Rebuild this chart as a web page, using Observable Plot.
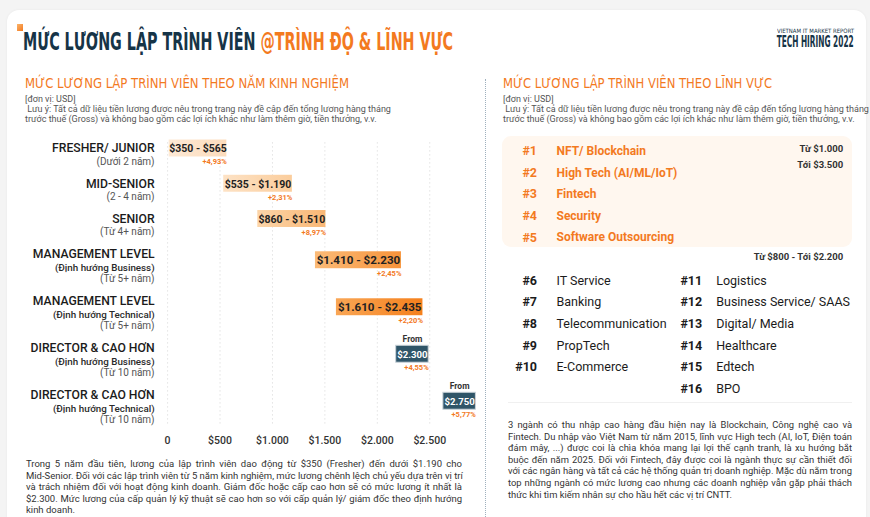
<!DOCTYPE html>
<html>
<head>
<meta charset="utf-8">
<script src="https://cdn.jsdelivr.net/npm/d3@7"></script>
<script src="https://cdn.jsdelivr.net/npm/@observablehq/plot@0.6"></script>
<style>
  html, body { margin: 0; padding: 0; }
  body { width: 870px; height: 517px; overflow: hidden; background: #f4f4f4; font-family: Roboto, "Noto Sans", sans-serif; }
  #page { position: relative; width: 870px; height: 517px; overflow: hidden; }
  .abs { position: absolute; white-space: nowrap; }
  .card { position: absolute; left: 7px; top: 10px; width: 859px; height: 540px; background: #fff; border-radius: 12px; box-shadow: 0 0 3px rgba(0,0,0,0.05); }
  .narrow { font-family: "Liberation Sans Narrow", "DejaVu Sans Condensed", sans-serif; }
  .title { font-weight: bold; font-size: 25px; line-height: 25px; color: #163447; transform-origin: 0 0; }
  .title span { color: #f37a1f; }
  .heading { font-size: 14px; line-height: 14px; color: #f37a1f; transform-origin: 0 0; }
  .note { font-size: 9px; line-height: 10px; color: #555; }
  .para { position: absolute; font-size: 9.4px; line-height: 11.6px; color: #333; text-align: justify; white-space: normal; }
  .para .ln { white-space: nowrap; text-align: justify; text-align-last: justify; }
  .para .ln.last { text-align-last: left; }
  .plot { position: absolute; overflow: hidden; }
</style>
</head>
<body>
<div id="page">
  <div class="card"></div>
  <div class="abs" style="left:17px;top:24px;width:6px;height:7px;background:linear-gradient(135deg,#fbb46b,#f37a1f);"></div>
  <div class="abs narrow title" id="title">MỨC LƯƠNG LẬP TRÌNH VIÊN <span>@TRÌNH ĐỘ &amp; LĨNH VỰC</span></div>
  <div class="abs narrow" id="rep1" style="font-size:6px;line-height:5px;color:#163447;">VIETNAM IT MARKET REPORT</div>
  <div class="abs narrow" id="rep2" style="font-size:15px;line-height:11px;font-weight:bold;color:#163447;">TECH HIRING 2022</div>

  <div class="abs narrow heading" id="h1" style="left:25px;top:76px;">MỨC LƯƠNG LẬP TRÌNH VIÊN THEO NĂM KINH NGHIỆM</div>
  <div class="abs note" style="left:25px;top:94px;">[đơn vị: USD]</div>
  <div class="abs note" style="left:25px;top:104px;">&nbsp;Lưu ý: Tất cả dữ liệu tiền lương được nêu trong trang này đề cập đến tổng lương hàng tháng<br>trước thuế (Gross) và không bao gồm các lợi ích khác như làm thêm giờ, tiền thưởng, v.v.</div>

  <div class="abs narrow heading" id="h2" style="left:503px;top:76px;">MỨC LƯƠNG LẬP TRÌNH VIÊN THEO LĨNH VỰC</div>
  <div class="abs note" style="left:503px;top:94px;">[đơn vị: USD]</div>
  <div class="abs note" style="left:503px;top:104px;">&nbsp;Lưu ý: Tất cả dữ liệu tiền lương được nêu trong trang này đề cập đến tổng lương hàng tháng<br>trước thuế (Gross) và không bao gồm các lợi ích khác như làm thêm giờ, tiền thưởng, v.v.</div>

  <div class="abs" style="left:485px;top:79px;width:0;height:440px;border-left:1.2px dotted #9fb0bd;"></div>

  <div class="abs" style="left:502px;top:136px;width:350px;height:111px;background:#fff7ef;border-radius:9px;"></div>
  <div class="abs" style="left:508px;top:402px;width:344px;height:0;border-top:1px solid #f0f0f0;"></div>

  <div id="left" class="plot" style="left:0;top:128px;width:484px;height:325px;"></div>
  <div id="right" class="plot" style="left:480px;top:130px;width:380px;height:270px;"></div>

  <div class="para" id="leftPara" style="left:26px;top:458px;width:436px;font-size:9.5px;"></div>
  <div class="para" id="rightPara" style="left:508px;top:419px;width:344px;"></div>
</div>
<script>
// ---------------- DATA ----------------
const levels = ["FRESHER/ JUNIOR", "MID-SENIOR", "SENIOR", "MANAGEMENT LEVEL", "MANAGEMENT LEVEL", "DIRECTOR & CAO HƠN", "DIRECTOR & CAO HƠN"];
const orientations = [null, null, null, "(Định hướng Business)", "(Định hướng Technical)", "(Định hướng Business)", "(Định hướng Technical)"];
const experience = ["(Dưới 2 năm)", "(2 - 4 năm)", "(Từ 4+ năm)", "(Từ 5+ năm)", "(Từ 5+ năm)", "(Từ 10 năm)", "(Từ 10 năm)"];
const salaryMin = [350, 535, 860, 1410, 1610, 2300, 2750];
const salaryMax = [565, 1190, 1510, 2230, 2435, null, null];
const growthPct = [4.93, 2.31, 8.97, 2.45, 2.20, 4.55, 5.77];
const xTicks = [0, 500, 1000, 1500, 2000, 2500];

const sectors = ["NFT/ Blockchain", "High Tech (AI/ML/IoT)", "Fintech", "Security", "Software Outsourcing",
  "IT Service", "Banking", "Telecommunication", "PropTech", "E-Commerce",
  "Logistics", "Business Service/ SAAS", "Digital/ Media", "Healthcare", "Edtech", "BPO"];
const topTierCount = 5;
const topTierRange = [1000, 3500];
const otherRange = [800, 2200];

const leftTextLines = [
  "Trong 5 năm đầu tiên, lương của lập trình viên dao động từ $350 (Fresher) đến dưới $1.190 cho",
  "Mid-Senior. Đối với các lập trình viên từ 5 năm kinh nghiệm, mức lương chênh lệch chủ yếu dựa trên vị trí",
  "và trách nhiệm đối với hoạt động kinh doanh. Giám đốc hoặc cấp cao hơn sẽ có mức lương ít nhất là",
  "$2.300. Mức lương của cấp quản lý kỹ thuật sẽ cao hơn so với cấp quản lý/ giám đốc theo định hướng",
  "kinh doanh."
];
const rightText = "3 ngành có thu nhập cao hàng đầu hiện nay là Blockchain, Công nghệ cao và Fintech. Du nhập vào Việt Nam từ năm 2015, lĩnh vực High tech (AI, IoT, Điện toán đám mây, ...) được coi là chìa khóa mang lại lợi thế cạnh tranh, là xu hướng bắt buộc đến năm 2025. Đối với Fintech, đây được coi là ngành thực sự cần thiết đối với các ngân hàng và tất cả các hệ thống quản trị doanh nghiệp. Mặc dù nằm trong top những ngành có mức lương cao nhưng các doanh nghiệp vẫn gặp phải thách thức khi tìm kiếm nhân sự cho hầu hết các vị trí CNTT.";

// ---------------- STYLE ----------------
const ORANGE = "#f37a1f";
const gradients = [["#fde9d5", "#fcdcbc"], ["#fde2c5", "#fbcd9c"], ["#fcd5a9", "#f9b775"], ["#fbbb78", "#f7933a"], ["#f9a655", "#f5801c"]];
const DIRECTOR_FILL = "#2f5568";

(function () {
  const lp = document.getElementById("leftPara");
  leftTextLines.forEach((t, i) => {
    const d = document.createElement("div");
    d.className = "ln" + (i === leftTextLines.length - 1 ? " last" : "");
    d.textContent = t;
    lp.appendChild(d);
  });
  document.getElementById("rightPara").textContent = rightText;
})();

// header sizing
(function () {
  const fit = (el, left, top, width, origin) => {
    const w = el.getBoundingClientRect().width;
    el.style.transformOrigin = origin === "right" ? "100% 0" : "0 0";
    el.style.left = (origin === "right" ? left - w : left) + "px";
    el.style.top = top + "px";
    el.style.transform = `scaleX(${width / w})`;
  };
  fit(document.getElementById("title"), 23, 29, 430);
  fit(document.getElementById("rep1"), 854, 28.4, 77, "right");
  fit(document.getElementById("rep2"), 854, 37.3, 77, "right");
  fit(document.getElementById("h1"), 25, 76, 324);
  fit(document.getElementById("h2"), 503, 76, 269);
})();

const money = v => v === 0 ? "0" : "$" + d3.format(",")(v).replace(/,/g, ".");
const pct = v => "+" + v.toFixed(2).replace(".", ",") + "%";

// ---------------- LEFT CHART ----------------
const rows = levels.map((name, i) => {
  const lines = [{kind: "main", text: name}];
  if (orientations[i]) lines.push({kind: "orient", text: orientations[i]});
  lines.push({kind: "exp", text: experience[i]});
  return {i, name, lines, min: salaryMin[i], max: salaryMax[i], growth: growthPct[i]};
});
const slots = [];
const lineData = [];
rows.forEach((r, ri) => {
  r.lines.forEach((l, k) => { const s = `${r.i}-${k}`; slots.push(s); lineData.push({...l, slot: s}); });
  if (ri < rows.length - 1) slots.push(`${r.i}-gap`);
});
const key0 = d => `${d.i}-0`;
const minSpan = 550;   // minimal box width (in $) to hold the label
const fromLead = 120, fromTail = 190; // "From" box extent around its value (in $)

function rowMarks(subset, dy) {
  const ranged = subset.filter(d => d.max != null);
  const from = subset.filter(d => d.max == null);
  const x1r = d => Math.min(d.min, d.max - minSpan);
  const x1f = d => d.min - fromLead;
  const x2f = d => d.min + fromTail;
  const xcf = d => (x1f(d) + x2f(d)) / 2;
  return [
    Plot.barX(ranged, {x1: x1r, x2: "max", y: key0, fill: d => `url(#g${d.i})`, insetTop: -2.6, insetBottom: -2.6, dy}),
    Plot.text(ranged, {x: d => (x1r(d) + d.max) / 2, y: key0, text: d => `${money(d.min)} - ${money(d.max)}`,
      fontSize: d => d.i >= 3 ? 11.6 : 10.5, fontWeight: "bold", fill: "#222", dy: dy + 0.5}),
    Plot.text(ranged, {x: "max", y: key0, text: d => pct(d.growth), textAnchor: "end", fontSize: 7.5, fontWeight: "bold", fill: ORANGE, dy: dy + 13.5}),
    Plot.barX(from, {x1: x1f, x2: x2f, y: key0, fill: DIRECTOR_FILL, stroke: "#c9d3d9", strokeWidth: 1, insetTop: -2.6, insetBottom: -2.6, dy}),
    Plot.text(from, {x: xcf, y: key0, text: d => money(d.min), fontSize: 9.6, fontWeight: "bold", fill: "#fff", dy: dy + 0.5}),
    Plot.text(from, {x: xcf, y: key0, text: () => "From", fontSize: 8.5, fontWeight: "bold", fill: "#333", dy: dy - 15}),
    Plot.text(from, {x: x2f, y: key0, text: d => pct(d.growth), textAnchor: "end", fontSize: 7.5, fontWeight: "bold", fill: ORANGE, dy: dy + 13.5})
  ];
}

const gradDefs = () => {
  const ns = "http://www.w3.org/2000/svg";
  const defs = document.createElementNS(ns, "defs");
  gradients.forEach((c, i) => {
    const g = document.createElementNS(ns, "linearGradient");
    g.setAttribute("id", `g${i}`); g.setAttribute("x1", "0"); g.setAttribute("x2", "1"); g.setAttribute("y1", "0"); g.setAttribute("y2", "0");
    c.forEach((col, j) => {
      const s = document.createElementNS(ns, "stop");
      s.setAttribute("offset", j === 0 ? "0%" : "100%"); s.setAttribute("stop-color", col);
      g.appendChild(s);
    });
    defs.appendChild(g);
  });
  return defs;
};

const step = 11.75;
const firstCenter = 148 - 128;
const leftPlot = Plot.plot({
  width: 484, height: 325,
  marginLeft: 167.1, marginRight: 484 - (167.1 + 0.10486 * 2800),
  marginTop: firstCenter - step / 2,
  marginBottom: 325 - (firstCenter - step / 2 + slots.length * step),
  x: {domain: [0, 2800], axis: null},
  y: {type: "band", domain: slots, padding: 0, round: false, axis: null},
  color: {type: "identity"},
  style: {fontFamily: "Roboto, 'Noto Sans', sans-serif", background: "transparent", overflow: "hidden"},
  marks: [
    gradDefs,
    Plot.gridX({ticks: xTicks, stroke: "#e3e3e3", strokeOpacity: 1, strokeDasharray: "1.5,2.5"}),
    Plot.axisX({ticks: xTicks, tickFormat: money, tickSize: 0, tickPadding: 12, fontSize: 10.5, fontWeight: 500, fill: "#333", label: null}),
    Plot.text(lineData.filter(d => d.kind === "main"), {y: "slot", text: "text", frameAnchor: "left", dx: -13, textAnchor: "end", fontSize: 12.2, fontWeight: 500, fill: "#1b1b1b"}),
    Plot.text(lineData.filter(d => d.kind === "orient"), {y: "slot", text: "text", frameAnchor: "left", dx: -13, textAnchor: "end", fontSize: 9.8, fontWeight: 500, fill: "#2a2a2a", dy: 1.5}),
    Plot.text(lineData.filter(d => d.kind === "exp"), {y: "slot", text: "text", frameAnchor: "left", dx: -13, textAnchor: "end", fontSize: 10, fill: "#555", dy: 1.5}),
    ...rowMarks(rows.filter(d => d.lines.length === 2), 0),
    ...rowMarks(rows.filter(d => d.lines.length === 3), 6)
  ]
});
document.getElementById("left").appendChild(leftPlot);

// ---------------- RIGHT LIST ----------------
const items = sectors.map((name, idx) => {
  const rank = idx + 1;
  const top = rank <= topTierCount;
  const col = rank <= 10 ? 0 : 1;
  const slot = top ? rank - 1 : (col === 0 ? rank : rank - 5);
  return {rank, name, top, col, slot};
});
const rStep = 21.6, rFirst = 150.7 - 130;
const rightPlot = Plot.plot({
  width: 380, height: 270,
  marginLeft: 0, marginRight: 380 - 362.7,
  marginTop: rFirst - rStep / 2, marginBottom: 270 - (rFirst - rStep / 2 + 12 * rStep),
  x: {type: "point", domain: [0, 1], range: [56.5, 221.7], padding: 0, round: false, axis: null},
  y: {type: "band", domain: d3.range(12), padding: 0, round: false, axis: null},
  style: {fontFamily: "Roboto, 'Noto Sans', sans-serif", background: "transparent"},
  marks: [
    Plot.text(items.filter(d => d.top), {x: "col", y: "slot", text: d => "#" + d.rank, textAnchor: "end", fontSize: 12.5, fontWeight: "bold", fill: ORANGE}),
    Plot.text(items.filter(d => d.top), {x: "col", y: "slot", text: "name", textAnchor: "start", dx: 19.5, fontSize: 12, fontWeight: "bold", fill: ORANGE}),
    Plot.text(items.filter(d => !d.top), {x: "col", y: "slot", text: d => "#" + d.rank, textAnchor: "end", fontSize: 12.5, fontWeight: "bold", fill: "#1b1b1b"}),
    Plot.text(items.filter(d => !d.top && d.col === 0), {x: "col", y: "slot", text: "name", textAnchor: "start", dx: 19.5, fontSize: 12.5, fill: "#1b1b1b"}),
    Plot.text(items.filter(d => !d.top && d.col === 1), {x: "col", y: "slot", text: "name", textAnchor: "start", dx: 14, fontSize: 12.5, fill: "#1b1b1b"}),
    Plot.text([topTierRange], {y: () => 0, frameAnchor: "right", textAnchor: "end", text: d => "Từ " + money(d[0]), fontSize: 9.5, fontWeight: "bold", fill: "#333", dy: -2.4}),
    Plot.text([topTierRange], {y: () => 0, frameAnchor: "right", textAnchor: "end", text: d => "Tới " + money(d[1]), fontSize: 9.5, fontWeight: "bold", fill: "#333", dy: 13.6}),
    Plot.text([otherRange], {y: () => 5, frameAnchor: "right", textAnchor: "end", text: d => `Từ ${money(d[0])} - Tới ${money(d[1])}`, fontSize: 9.5, fontWeight: "bold", fill: "#333", dy: -2})
  ]
});
document.getElementById("right").appendChild(rightPlot);
</script>
</body>
</html>
